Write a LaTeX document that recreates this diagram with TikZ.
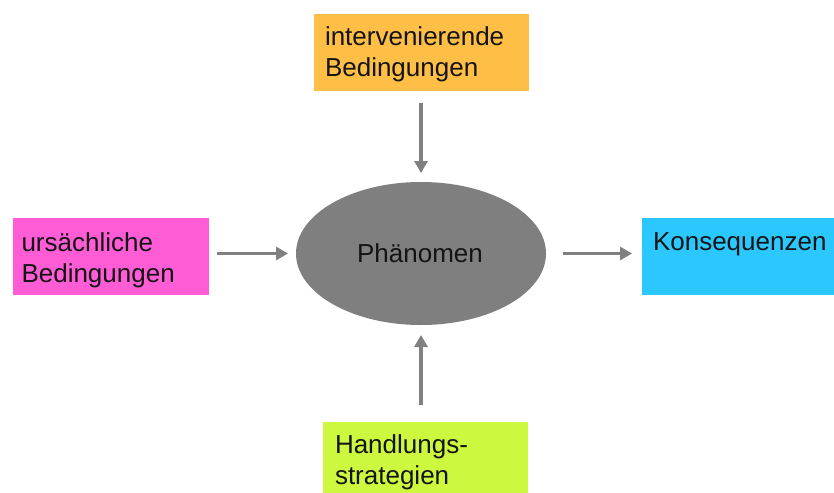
\documentclass[tikz,border=0pt]{standalone}
\usepackage{fontspec}
\setmainfont{Liberation Sans}
\usetikzlibrary{arrows.meta,shapes.geometric}
\definecolor{orangeB}{HTML}{FFBF47}
\definecolor{magentaB}{HTML}{FF5CD6}
\definecolor{cyanB}{HTML}{2BC8FF}
\definecolor{limeB}{HTML}{CCF83F}
\definecolor{ellgray}{HTML}{7F7F7F}
\definecolor{arrgray}{HTML}{808080}
\definecolor{txtc}{HTML}{141414}
\tikzset{
  cbox/.style={rectangle, draw=none, inner sep=0pt, outer sep=0pt, anchor=north west},
  txt/.style={inner sep=0pt, outer sep=0pt, anchor=base west, text=txtc, font=\fontsize{26}{31}\selectfont},
  conn/.style={draw=arrgray, line width=3.6pt, -{Triangle[length=12pt,width=13pt]}}
}
\begin{document}
\begin{tikzpicture}[x=1pt,y=-1pt]
\clip (0,0) rectangle (834,492);
\fill[white] (0,0) rectangle (834,492);
% boxes
\node[cbox, fill=orangeB, minimum width=215pt, minimum height=77pt] (top) at (314,14) {};
\node[cbox, fill=magentaB, minimum width=196pt, minimum height=77pt] (left) at (13,218) {};
\node[cbox, fill=cyanB, minimum width=200pt, minimum height=77pt] (right) at (642,218) {};
\node[cbox, fill=limeB, minimum width=205pt, minimum height=80pt] (bottom) at (323,422) {};
% ellipse
\node[ellipse, fill=ellgray, draw=none, minimum width=250pt, minimum height=143pt, inner sep=0pt, outer sep=0pt] (phen) at (421,253.5) {};
% texts
\node[txt] (toptxt) at (325,46) {\begin{tabular}[t]{@{}l@{}}intervenierende\\Bedingungen\end{tabular}};
\node[txt] (lefttxt) at (21.5,251) {\begin{tabular}[t]{@{}l@{}}ursächliche\\Bedingungen\end{tabular}};
\node[txt] (righttxt) at (653,250) {Konsequenzen};
\node[txt] (bottomtxt) at (335,453) {\begin{tabular}[t]{@{}l@{}}Handlungs-\\strategien\end{tabular}};
\node[txt, anchor=base] (phentxt) at (420,262) {Phänomen};
% connectors
\draw[conn, shorten <=12pt, shorten >=9pt] (top.south -| phen.north) -- (phen.north);
\draw[conn, shorten <=8pt, shorten >=8pt] (left.east |- phen.west) -- (phen.west);
\draw[conn, shorten <=17pt, shorten >=10pt] (phen.east) -- (phen.east -| right.west);
\draw[conn, shorten <=17pt, shorten >=10pt] (bottom.north -| phen.south) -- (phen.south);
\end{tikzpicture}
\end{document}
